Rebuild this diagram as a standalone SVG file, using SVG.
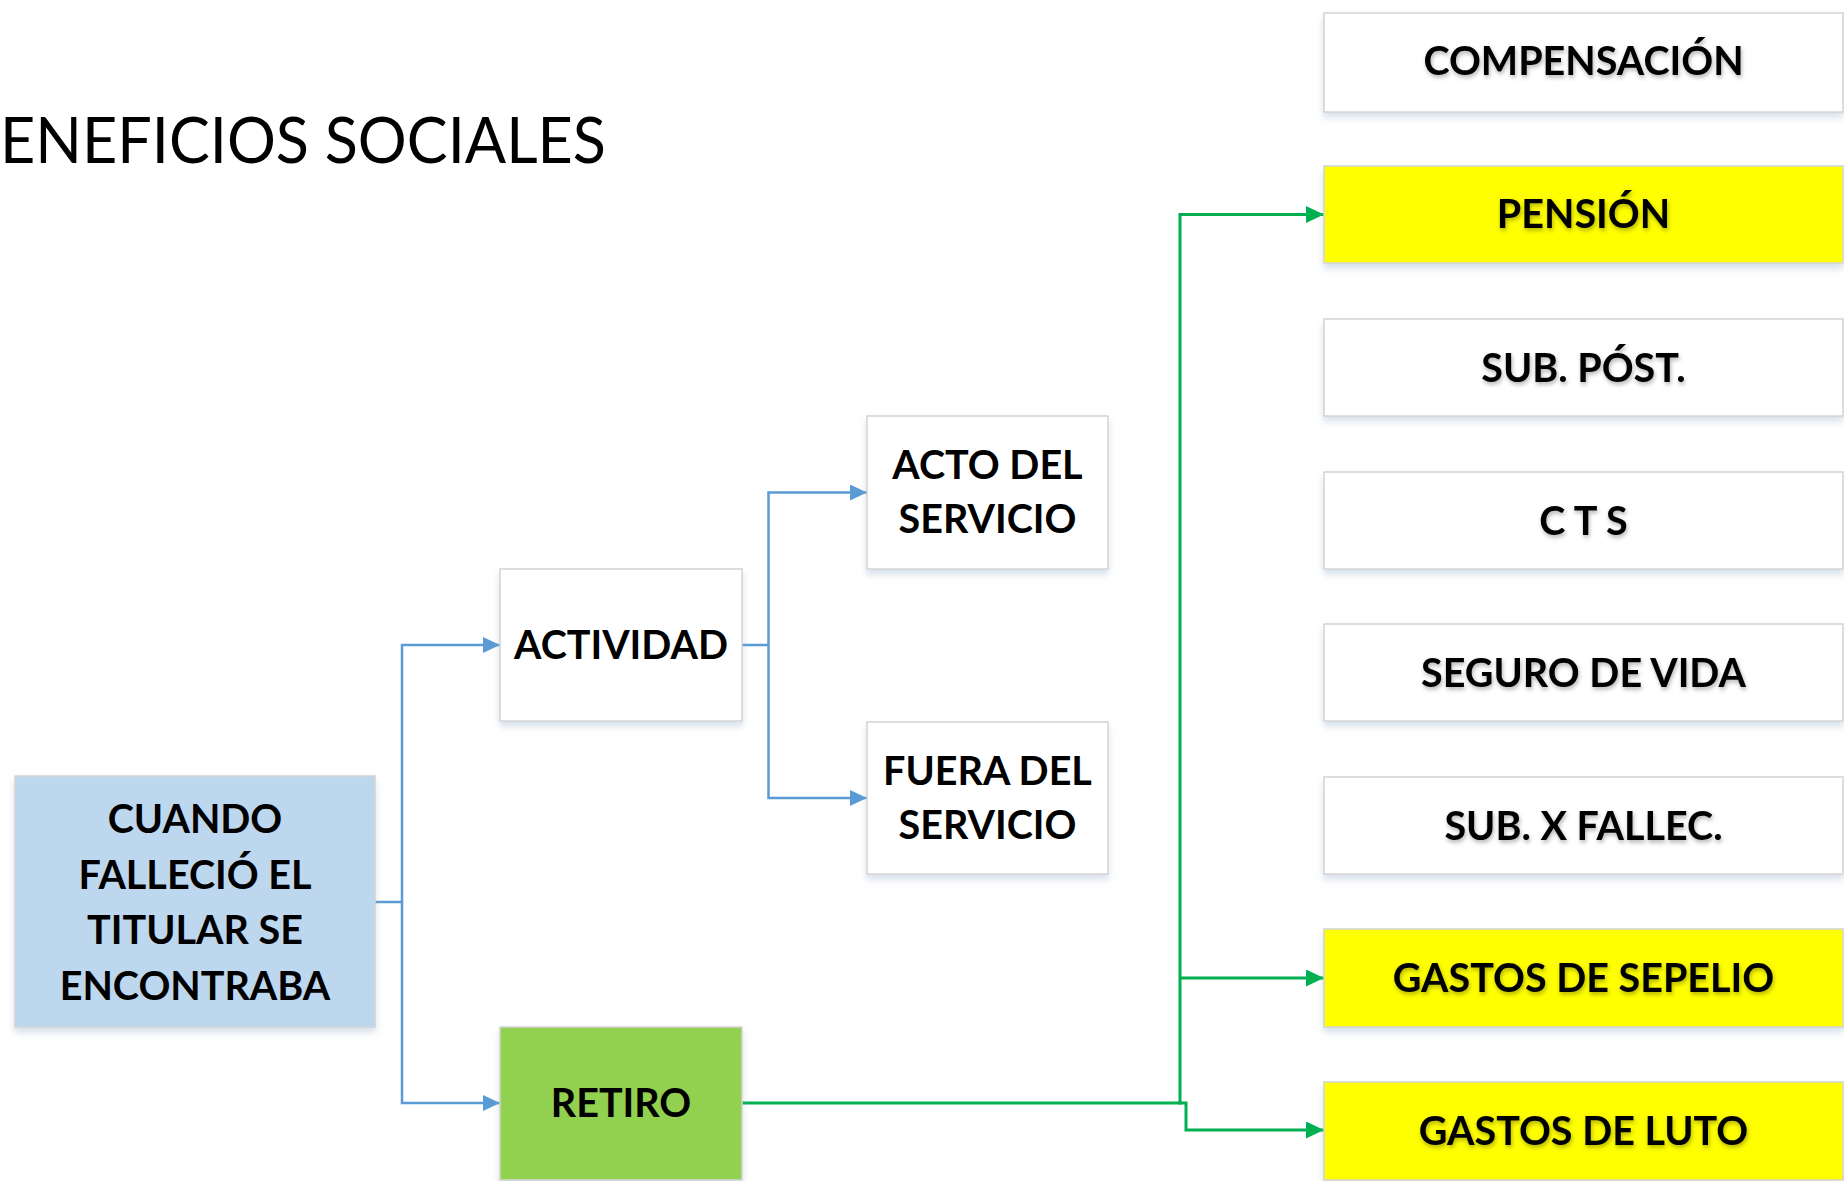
<svg xmlns="http://www.w3.org/2000/svg" width="1844" height="1181" viewBox="0 0 1844 1181">
<style>
.box{stroke:#D4D4D4;stroke-width:1.5;filter:url(#sh)}
.w{fill:#FFFFFF}
.y{fill:#FFFF00}
.b{fill:#BDD7EE}
.g{fill:#92D050}
.t{font-family:Lato,"Liberation Sans",sans-serif;font-weight:bold;font-size:39.5px;fill:#000;text-anchor:middle}
.ts{filter:url(#tsh)}
.title{font-family:Lato,"Liberation Sans",sans-serif;font-size:64px;fill:#000}
.cb{fill:none;stroke:#5B9BD5;stroke-width:2.5}
.cg{fill:none;stroke:#00B050;stroke-width:3}
</style>
<defs>
<filter id="sh" x="-5%" y="-10%" width="110%" height="130%">
<feDropShadow dx="0" dy="5" stdDeviation="3.5" flood-color="#8EA9C8" flood-opacity="0.35"/>
</filter>
<filter id="tsh" x="-5%" y="-20%" width="110%" height="150%">
<feDropShadow dx="1" dy="2.5" stdDeviation="2" flood-color="#000" flood-opacity="0.3"/>
</filter>
<marker id="ab" markerUnits="userSpaceOnUse" markerWidth="17" markerHeight="16" refX="17" refY="8" orient="auto">
<path d="M0,0 L17,8 L0,16 z" fill="#5B9BD5"/>
</marker>
<marker id="ag" markerUnits="userSpaceOnUse" markerWidth="18" markerHeight="17" refX="18" refY="8.5" orient="auto">
<path d="M0,0 L18,8.5 L0,17 z" fill="#00B050"/>
</marker>
</defs>
<rect width="1844" height="1181" fill="#FFFFFF"/>
<text class="title" x="0" y="163" textLength="606" lengthAdjust="spacingAndGlyphs">ENEFICIOS SOCIALES</text>

<g id="connectors">
<path class="cb" d="M375,902 H402 V645 H500" marker-end="url(#ab)"/>
<path class="cb" d="M402,902 V1103 H500" marker-end="url(#ab)"/>
<path class="cb" d="M742,645 H768.5 V492.5 H867" marker-end="url(#ab)"/>
<path class="cb" d="M768.5,645 V798 H867" marker-end="url(#ab)"/>
<path class="cg" d="M742,1103 H1180 V214.5 H1324" marker-end="url(#ag)"/>
<path class="cg" d="M1180,978 H1324" marker-end="url(#ag)"/>
<path class="cg" d="M1178,1103 H1186 V1130 H1324" marker-end="url(#ag)"/>
</g>

<g id="cuando">
<rect class="box b" x="15" y="776" width="360" height="251"/>
<text class="t" x="195" y="833">CUANDO</text>
<text class="t" x="195" y="888.5">FALLECIÓ EL</text>
<text class="t" x="195" y="944">TITULAR SE</text>
<text class="t" x="195" y="999.5">ENCONTRABA</text>
</g>
<g id="actividad">
<rect class="box w" x="500" y="569" width="242" height="152"/>
<text class="t" x="621" y="659">ACTIVIDAD</text>
</g>
<g id="retiro">
<rect class="box g" x="500" y="1027" width="242" height="153"/>
<text class="t" x="621" y="1117">RETIRO</text>
</g>
<g id="acto">
<rect class="box w" x="867" y="416" width="241" height="153"/>
<text class="t" x="987.5" y="479">ACTO DEL</text>
<text class="t" x="987.5" y="533">SERVICIO</text>
</g>
<g id="fuera">
<rect class="box w" x="867" y="722" width="241" height="152"/>
<text class="t" x="987.5" y="785">FUERA DEL</text>
<text class="t" x="987.5" y="839">SERVICIO</text>
</g>

<g id="compensacion">
<rect class="box w" x="1324" y="13" width="519" height="99"/>
<text class="t ts" x="1583.5" y="75">COMPENSACIÓN</text>
</g>
<g id="pension">
<rect class="box y" x="1324" y="166" width="519" height="97"/>
<text class="t ts" x="1583.5" y="228">PENSIÓN</text>
</g>
<g id="subpost">
<rect class="box w" x="1324" y="319" width="519" height="97"/>
<text class="t ts" x="1583.5" y="382">SUB. PÓST.</text>
</g>
<g id="cts">
<rect class="box w" x="1324" y="472" width="519" height="97"/>
<text class="t ts" x="1583.5" y="535">C T S</text>
</g>
<g id="seguro">
<rect class="box w" x="1324" y="624" width="519" height="97"/>
<text class="t ts" x="1583.5" y="687">SEGURO DE VIDA</text>
</g>
<g id="subfallec">
<rect class="box w" x="1324" y="777" width="519" height="97"/>
<text class="t ts" x="1583.5" y="840">SUB. X FALLEC.</text>
</g>
<g id="sepelio">
<rect class="box y" x="1324" y="929" width="519" height="98"/>
<text class="t ts" x="1583.5" y="992">GASTOS DE SEPELIO</text>
</g>
<g id="luto">
<rect class="box y" x="1324" y="1082" width="519" height="98"/>
<text class="t ts" x="1583.5" y="1145">GASTOS DE LUTO</text>
</g>
</svg>
